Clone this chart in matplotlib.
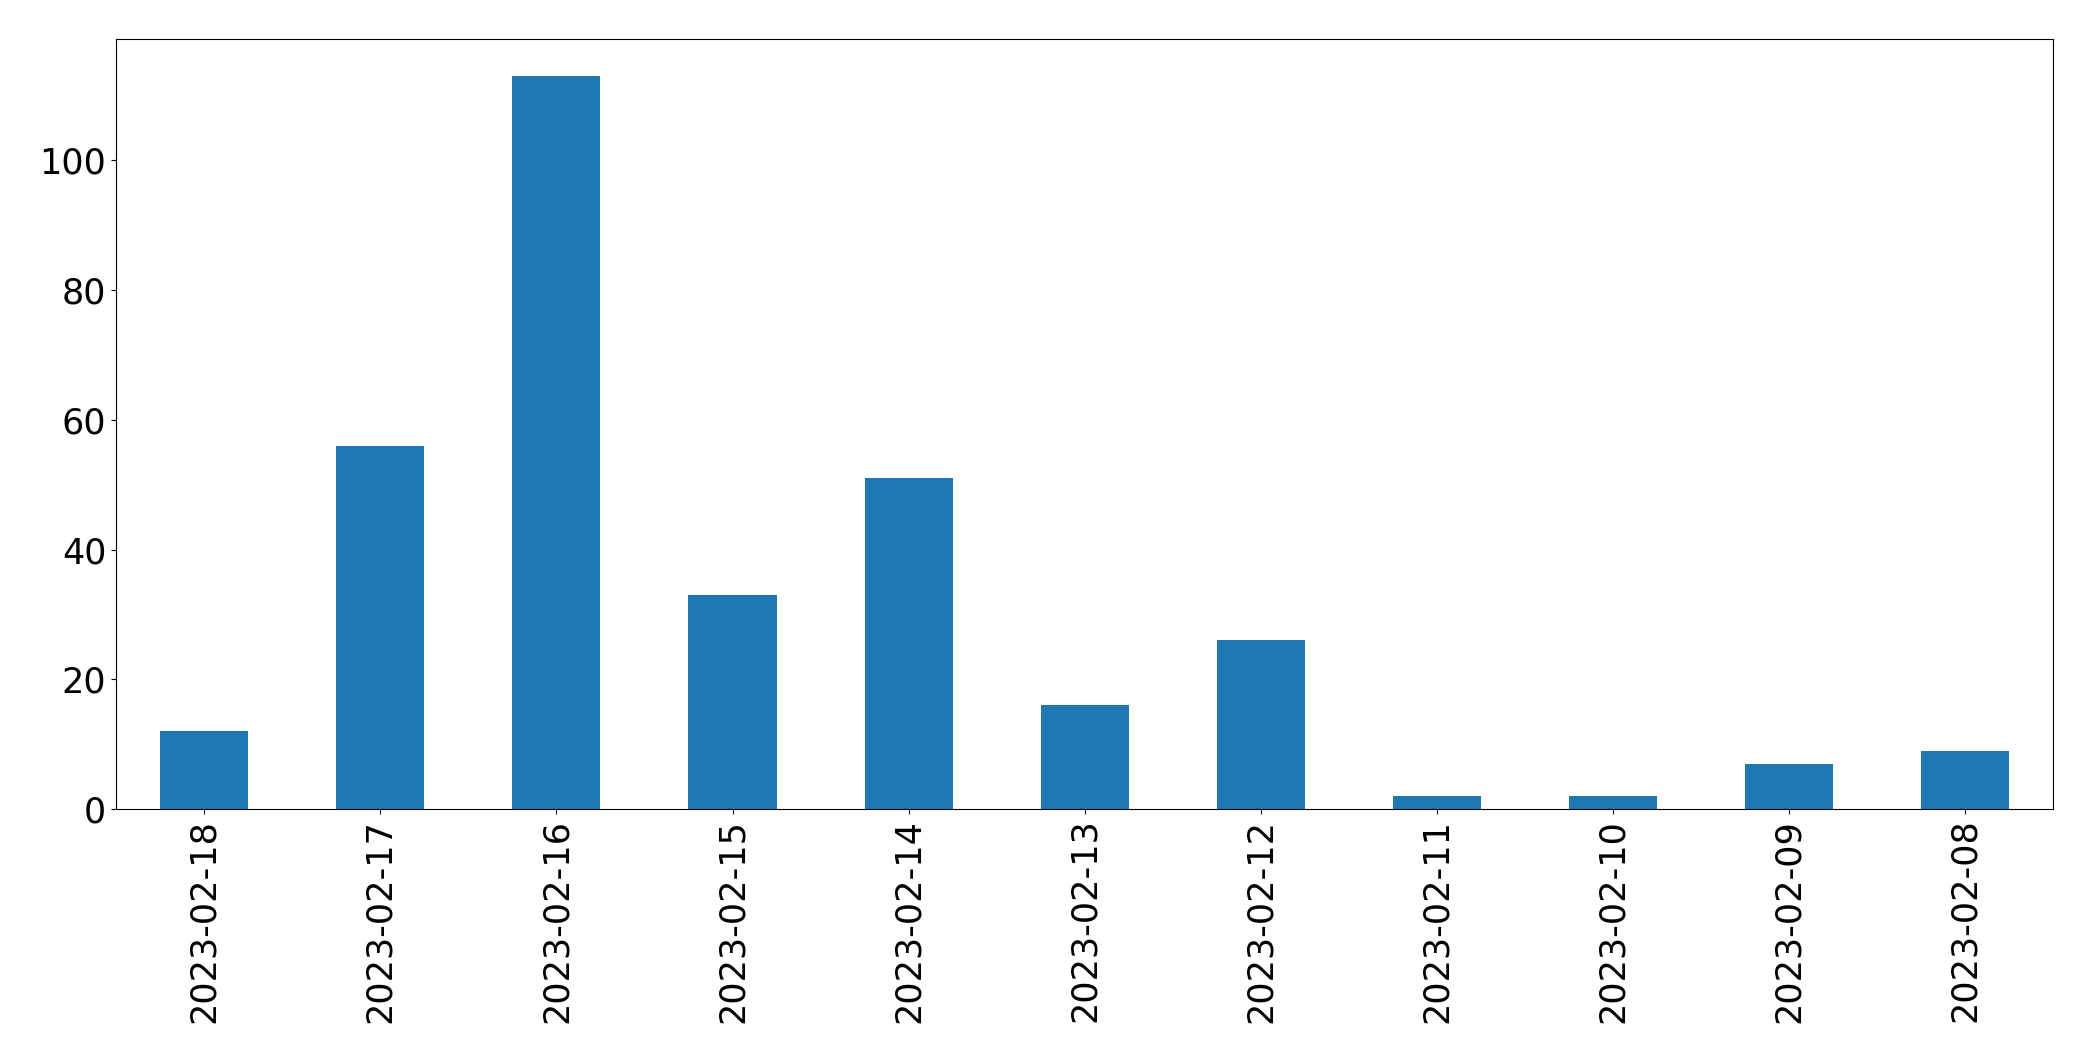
import matplotlib
matplotlib.use("Agg")
import matplotlib.pyplot as plt
import pandas as pd

# Fechas y conteos
dates = ["2023-02-18", "2023-02-17", "2023-02-16", "2023-02-15", "2023-02-14",
         "2023-02-13", "2023-02-12", "2023-02-11", "2023-02-10", "2023-02-09",
         "2023-02-08"]
counts = [12, 56, 113, 33, 51, 16, 26, 2, 2, 7, 9]

serie = pd.Series(counts, index=dates)

fig, ax = plt.subplots(figsize=(20.93, 10.61), dpi=100)
serie.plot(kind="bar", ax=ax, color="#1f77b4")
ax.tick_params(axis="both", labelsize=25.2)
fig.subplots_adjust(left=0.0555, right=0.981, top=0.963, bottom=0.2375)

fig.savefig("out.png", dpi=100)
